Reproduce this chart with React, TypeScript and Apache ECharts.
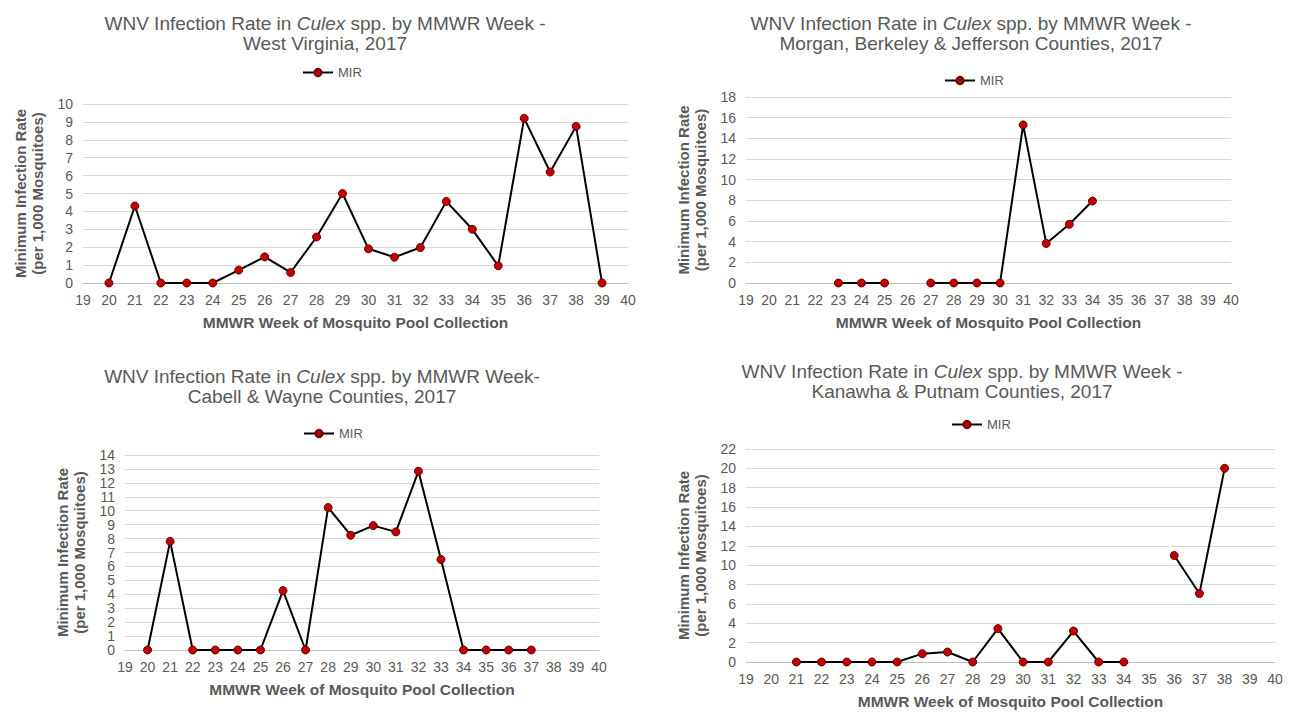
import React, { useEffect, useRef } from "react";
import * as echarts from "echarts";

const weeks = ["19","20","21","22","23","24","25","26","27","28","29","30","31","32","33","34","35","36","37","38","39","40"];

// values aligned with weeks 19..40 (null = no collection)
const westVirginia = [null, 0, 4.3, 0, 0, 0, 0.72, 1.46, 0.59, 2.57, 5.0, 1.91, 1.44, 1.98, 4.56, 3.0, 0.96, 9.2, 6.2, 8.75, 0, null];
const morganBerkeleyJefferson = [null, null, null, null, 0, 0, 0, null, 0, 0, 0, 0, 15.3, 3.83, 5.68, 7.93, null, null, null, null, null, null];
const cabellWayne = [null, 0, 7.8, 0, 0, 0, 0, 4.26, 0, 10.23, 8.24, 8.93, 8.48, 12.83, 6.5, 0, 0, 0, 0, null, null, null];
const kanawhaPutnam = [null, null, 0, 0, 0, 0, 0, 0.86, 1.03, 0, 3.45, 0, 0, 3.2, 0, 0, null, 11.0, 7.07, 20.0, null, null];

const titles = [
  ["WNV Infection Rate in {i|Culex} spp. by MMWR Week -", "West Virginia, 2017"],
  ["WNV Infection Rate in {i|Culex} spp. by MMWR Week -", "Morgan, Berkeley & Jefferson Counties, 2017"],
  ["WNV Infection Rate in {i|Culex} spp. by MMWR Week-", "Cabell & Wayne Counties, 2017"],
  ["WNV Infection Rate in {i|Culex} spp. by MMWR Week -", "Kanawha & Putnam Counties, 2017"],
];
const yMax = [10, 18, 14, 22];
const yStep = [1, 2, 1, 2];
const seriesName = "MIR";
const yName = "Minimum Infection Rate\n(per 1,000 Mosquitoes)";
const xName = "MMWR Week of Mosquito Pool Collection";

const grids = [
  { left: 83, top: 104, width: 545, height: 179 },
  { left: 746, top: 97, width: 485, height: 186 },
  { left: 125, top: 455, width: 474, height: 195 },
  { left: 746, top: 449, width: 529, height: 213 },
];
const titlePos = [
  { x: 325, y: 13 },
  { x: 971, y: 13 },
  { x: 322, y: 366 },
  { x: 962, y: 361 },
];
const legendPos = [
  { left: 297, top: 61 },
  { left: 939, top: 69 },
  { left: 298, top: 422 },
  { left: 946, top: 413 },
];

const NARROW = "'Liberation Sans Narrow', 'Arial Narrow', 'Liberation Sans', sans-serif";
const SANS = "'Liberation Sans', Arial, sans-serif";
const GREY = "#595959";

export default function App() {
  const ref = useRef<HTMLDivElement>(null);
  useEffect(() => {
    if (!ref.current) return;
    const chart = echarts.init(ref.current, null, { renderer: "svg" });
    const data = [westVirginia, morganBerkeleyJefferson, cabellWayne, kanawhaPutnam];
    const option: any = {
      animation: false,
      backgroundColor: "#ffffff",
      grid: grids.map((g) => ({ ...g, containLabel: false })),
      legend: legendPos.map((p) => ({
        data: [seriesName],
        left: p.left,
        top: p.top,
        itemWidth: 30,
        itemHeight: 9,
        itemGap: 4,
        textStyle: { color: GREY, fontSize: 13, fontFamily: SANS },
        selectedMode: false,
      })),
      xAxis: grids.map((_, i) => ({
        type: "category",
        gridIndex: i,
        data: weeks,
        boundaryGap: false,
        axisTick: { show: false },
        axisLine: { lineStyle: { color: "#bfbfbf", width: 1 } },
        axisLabel: { color: GREY, fontSize: 14, fontFamily: NARROW, interval: 0, margin: 10 },
        splitLine: { show: false },
        name: xName,
        nameLocation: "middle",
        nameGap: 31,
        nameTextStyle: { color: GREY, fontSize: 15.5, fontWeight: "bold", fontFamily: NARROW },
      })),
      yAxis: grids.map((_, i) => ({
        type: "value",
        gridIndex: i,
        min: 0,
        max: yMax[i],
        interval: yStep[i],
        axisLine: { show: false },
        axisTick: { show: false },
        axisLabel: { color: GREY, fontSize: 14, fontFamily: NARROW, margin: 10 },
        splitLine: { lineStyle: { color: "#d9d9d9", width: 1 } },
        name: yName,
        nameLocation: "middle",
        nameGap: 37,
        nameRotate: 90,
        nameTextStyle: { color: GREY, fontSize: 15, fontWeight: "bold", fontFamily: SANS, lineHeight: 17 },
      })),
      series: data.map((d, i) => ({
        type: "line",
        name: seriesName,
        xAxisIndex: i,
        yAxisIndex: i,
        data: d,
        connectNulls: false,
        symbol: "circle",
        symbolSize: 8,
        lineStyle: { color: "#000000", width: 2 },
        itemStyle: { color: "#C00000", borderColor: "#6b0000", borderWidth: 1 },
      })),
      graphic: titles.map((t, i) => ({
        type: "text",
        x: titlePos[i].x,
        y: titlePos[i].y,
        silent: true,
        style: {
          text: t[0] + "\n" + t[1],
          align: "center",
          verticalAlign: "top",
          fill: GREY,
          fontSize: 19,
          fontFamily: NARROW,
          lineHeight: 20,
          rich: {
            i: { fontStyle: "italic", fontSize: 19, fontFamily: NARROW, fill: GREY },
          },
        },
      })),
    };
    chart.setOption(option);
    return () => chart.dispose();
  }, []);
  return <div ref={ref} style={{ position: "fixed", left: 0, top: 0, width: 1296, height: 713 }} />;
}
